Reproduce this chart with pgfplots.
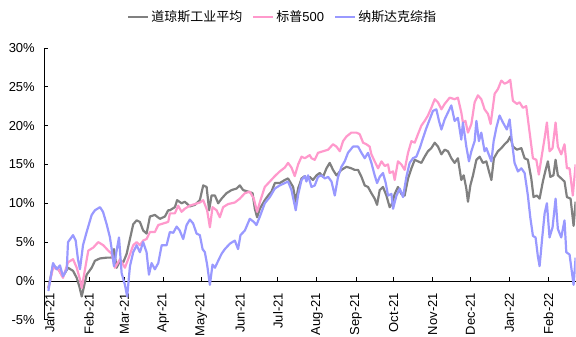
\documentclass[border=0pt]{standalone}
\usepackage{pgfplots}
\pgfplotsset{compat=1.18}
\usepackage{fontspec}
\setmainfont{Liberation Sans}
\newfontfamily\cjk{Noto Sans CJK SC}

\definecolor{dowgray}{HTML}{808080}
\definecolor{sppink}{HTML}{FF99CC}
\definecolor{nasblue}{HTML}{9999FF}

\begin{document}
\begin{tikzpicture}
\begin{axis}[
  name=ax,
  scale only axis, width=532pt, height=272pt,
  xmin=-4.8, xmax=417.5, ymin=-5, ymax=30,
  axis x line=middle, axis y line=left,
  axis line style={-, black, line width=0.8pt},
  tick align=inside, major tick length=4pt,
  tick style={black, line width=0.8pt},
  xtick={0,31,59,90,120,151,181,212,243,273,304,334,365,396},
  xticklabels={Jan-21,Feb-21,Mar-21,Apr-21,May-21,Jun-21,Jul-21,Aug-21,Sep-21,Oct-21,Nov-21,Dec-21,Jan-22,Feb-22},
  xticklabel style={font=\fontsize{13}{15}\selectfont, rotate=90, anchor=east, inner sep=0pt, xshift=-12pt},
  ytick={-5,0,5,10,15,20,25,30},
  yticklabels={-5\%,0\%,5\%,10\%,15\%,20\%,25\%,30\%},
  yticklabel style={font=\fontsize{13}{15}\selectfont, inner sep=0pt, xshift=-9pt},
  legend columns=3,
  legend style={at={(0.449,1.114)}, anchor=center, draw=none, fill=none,
    font=\fontsize{13}{15}\selectfont,
    /tikz/every even column/.append style={column sep=8pt}},
  legend image code/.code={\draw[#1] (0pt,0pt) -- (20pt,0pt);},
  every axis plot/.append style={line width=2.2pt, line join=round},
]
% Dow Jones Industrial Average, cumulative change (%)
\addplot[dowgray] coordinates {
(-1.3,-0.9) (2.4,2.0) (6.6,1.5) (10.3,0.6) (14.3,1.7) (18.3,1.3) (21.2,0.4) (23.3,-0.7) (25.2,-2.0) (27,-0.7)
(29.1,0.8) (33.1,1.7) (35.7,2.6) (39.7,2.9) (45,3.0) (49,3.0) (50.8,4.1) (52.9,1.7) (55.6,2.6) (58.2,2.4)
(60.9,3.5) (63.5,5.4) (66.1,7.3) (68.8,7.8) (71.4,7.6) (74,6.5) (76.7,6.1) (79.4,8.3) (83.3,8.5) (87.3,8.0)
(91.3,8.3) (93.9,9.1) (95.2,9.1) (99.2,9.5) (101,10.4) (104.5,10.0) (107.1,10.2) (111.1,9.6) (115.1,9.8) (119,10.4)
(121.7,12.3) (124.4,12.1) (126.4,9.1) (128.3,11.0) (131,11.0) (133.6,10.0) (136.3,10.6) (140.2,11.3) (144.2,11.7) (148.2,11.9)
(150.8,12.3) (153.4,11.7) (157.4,11.5) (160.9,11.3) (162.7,9.3) (164.5,8.2) (166.7,9.3) (170.6,10.4) (173.3,11.0) (175.9,11.5)
(178.6,12.6) (182.5,12.6) (186.5,13.0) (189.1,13.2) (193.1,12.1) (195.2,10.2) (197.1,11.9) (199.8,13.2) (202.4,13.5) (203.7,13.0)
(206.3,13.4) (208.9,13.0) (211.7,13.6) (214.3,13.9) (216.9,13.4) (219.6,14.5) (222.2,15.2) (224.8,14.3) (227.5,13.6) (231.5,14.3)
(235.5,14.7) (239.4,14.5) (242,14.3) (244.7,14.3) (247.4,13.4) (250,12.3) (252.6,12.1) (255.3,11.3) (257.9,10.6) (259.8,9.8)
(261.9,11.7) (264.5,12.1) (267.2,11.0) (269.8,9.5) (271.9,10.0) (273.8,11.2) (276.4,12.1) (279.1,11.2) (281.7,11.0) (284.4,13.2)
(287.1,14.5) (289.7,15.6) (292.3,15.4) (295,15.2) (297.6,16.0) (300.2,16.7) (302.9,17.1) (305.6,17.8) (308.2,17.3) (310.9,16.3)
(313.5,16.9) (316.1,16.7) (318.8,15.8) (321.4,15.2) (324,15.8) (326.7,13.0) (328.6,13.6) (330.7,11.9) (332,10.2) (333.9,12.3)
(336,13.6) (338.7,15.6) (341.3,16.0) (343.9,15.2) (346.6,15.4) (348.7,14.1) (350.6,13.0) (352.6,15.8) (355.8,16.7) (358.5,17.1)
(361.1,17.6) (363.7,18.0) (365.6,18.6) (367.7,17.3) (370.9,16.9) (374.4,17.1) (377,15.8) (379.6,15.6) (382.3,13.2) (384.1,10.8)
(386.7,11.0) (388.9,10.6) (391.5,12.8) (393.7,14.3) (395.5,15.4) (397.4,13.4) (399.9,13.6) (401.6,15.6) (403.4,13.6) (406.1,13.2)
(408.7,12.8) (410.6,10.8) (413.5,10.6) (415.9,7.1) (417.5,10.2)
};
\addlegendentry{\cjk 道琼斯工业平均}
% S&P 500
\addplot[sppink] coordinates {
(-1.3,-1.0) (2.4,1.7) (6.6,1.5) (10.3,0.4) (14.3,2.4) (18.3,2.8) (21.2,1.7) (23.8,0.2) (25.2,-0.9) (27.8,1.5)
(30.4,3.9) (34.4,4.3) (38.3,5.0) (42.3,4.6) (46.3,3.9) (49,3.5) (51.6,1.7) (55.6,2.8) (59.5,1.7) (62.1,2.8)
(66.1,4.6) (68.8,5.0) (71.4,4.6) (74,5.2) (76.7,5.4) (79.4,6.3) (83.3,6.3) (86,7.2) (89.9,7.4) (93.9,7.6)
(95.2,8.7) (99.2,8.7) (101.8,9.7) (104.5,8.9) (107.1,9.3) (111.1,9.7) (115.1,9.9) (119,10.1) (121.7,10.4) (124.8,9.1)
(127,6.9) (129.1,9.5) (132.3,9.1) (134.9,8.2) (137.5,9.5) (141.5,9.9) (146.8,10.1) (150.8,10.6) (154.8,11.3) (158.7,11.5)
(161.9,10.6) (164.5,8.9) (167.2,10.4) (170.6,12.1) (174.6,12.8) (178.6,13.5) (182.5,14.1) (186.5,14.6) (189.1,15.2) (191.8,14.6)
(194.4,13.5) (197.1,15.0) (199.8,16.0) (202.4,15.8) (206.3,16.2) (207.7,15.8) (210.3,15.6) (212.9,16.5) (216.9,16.7) (220.9,16.9)
(224.8,17.6) (227.5,17.3) (230.2,16.7) (232.8,18.0) (235.5,18.6) (239.4,19.1) (243.4,19.1) (246,18.9) (248.7,17.8) (251.3,17.6)
(253.9,17.3) (255.3,16.3) (257.9,15.4) (260.6,14.5) (263.3,15.4) (265.9,14.8) (268.5,15.0) (269.8,13.9) (272.5,14.1) (273.8,13.0)
(276.4,15.4) (279.1,15.0) (281.7,14.3) (284.4,16.5) (287.1,18.0) (289.7,17.8) (292.3,18.9) (295,20.0) (297.6,20.6) (300.2,21.3)
(302.9,22.3) (305.6,23.4) (308.2,23.0) (310.9,22.1) (313.5,22.8) (317.5,23.6) (321.4,23.4) (324,23.6) (326.7,21.7) (328,20.4)
(330,20.6) (332,19.1) (334.7,20.2) (337.3,23.0) (339.9,23.9) (342.6,23.4) (345.2,22.1) (347.9,21.5) (350,20.2) (353.2,24.1)
(355.8,24.7) (358.5,25.8) (361.1,25.4) (363.7,25.6) (365.6,25.9) (367.7,23.2) (370.9,22.8) (373,23.0) (375.6,22.3) (378.3,22.5)
(381,19.1) (383.6,15.8) (386.3,15.6) (388.3,13.7) (391,16.5) (392.9,18.4) (394.7,20.4) (396.8,16.7) (399.2,17.1) (401.6,20.4)
(403.4,17.3) (406.1,16.3) (408.7,17.6) (410.6,14.5) (412.7,14.5) (415.3,11.0) (417.5,15.0)
};
\addlegendentry{{\cjk 标普}500}
% Nasdaq Composite
\addplot[nasblue] coordinates {
(-1.3,-1.3) (2.4,2.3) (5.3,1.5) (7.9,2.0) (10.3,0.6) (13.3,1.5) (14.3,5.0) (18.3,5.9) (20.4,5.2) (22.2,2.8)
(23.8,1.5) (26.2,4.6) (29.1,6.3) (33.1,8.5) (35.7,9.1) (39.7,9.5) (42.1,8.9) (45,7.3) (47.6,5.6) (49,4.1)
(50.8,1.9) (52.9,3.9) (54.8,5.6) (56.9,1.0) (59.5,-0.5) (61.3,-2.0) (63.5,1.9) (66.1,3.7) (68.8,4.6) (71.4,3.7)
(74,5.0) (76.7,3.7) (78.6,0.8) (80.7,2.3) (83.3,1.5) (86,2.3) (88.7,4.6) (92.6,4.6) (95.2,6.3) (97.9,6.2)
(100.6,7.0) (103,6.5) (105.8,5.4) (108.5,7.2) (111.1,7.9) (113.7,7.4) (116.4,6.1) (119,5.9) (121.2,4.1) (123,3.7)
(124.8,2.1) (127,-0.5) (129.1,2.1) (131,1.7) (133.6,2.6) (136.3,3.5) (138.9,4.1) (142.9,4.8) (146.8,5.2) (149.4,4.1)
(151.3,5.9) (154.8,6.5) (158.7,8.0) (161.9,7.6) (164,7.2) (167.2,8.5) (170.6,10.0) (174.6,10.8) (178.6,11.9) (182.5,12.3)
(186.5,12.6) (189.1,12.8) (191.8,11.7) (195.2,9.1) (197.1,11.1) (199.8,13.0) (202.4,13.5) (203.7,12.8) (205,13.6) (207.7,12.1)
(210.3,12.3) (212.9,13.4) (215.6,13.6) (218.3,13.2) (220.9,13.4) (223.6,12.8) (226.2,11.0) (228.8,13.4) (231.5,14.7) (234.1,15.4)
(236.7,16.5) (240.7,17.3) (244.7,17.3) (247.4,16.5) (250,15.8) (252.6,16.5) (255.3,15.2) (257.9,13.6) (259.8,12.6) (261.9,13.4)
(264.5,13.9) (266.7,12.6) (268.5,11.0) (271.2,11.2) (272.5,9.3) (275.2,11.0) (277.8,11.9) (280.4,10.8) (283.1,13.4) (285.7,15.2)
(288.3,15.8) (291,16.0) (293.7,17.1) (296.3,18.4) (299,19.7) (301.6,20.8) (304.2,21.9) (306.9,22.1) (309,20.6) (310.9,19.5)
(313.5,20.8) (316.1,21.7) (318.8,22.6) (321.4,20.6) (324,21.0) (326.7,18.2) (328,20.4) (330.7,17.3) (332.8,15.4) (334.7,16.7)
(337.3,18.0) (338.7,20.6) (340.7,18.0) (342.6,19.1) (345.2,16.7) (346.6,17.1) (350.6,15.4) (352.4,18.0) (354.5,19.7) (357.1,21.3)
(359.8,20.4) (362.9,19.5) (365.1,20.8) (366.9,18.0) (369,15.2) (371.7,14.1) (374.4,14.5) (377,13.9) (379.6,11.0) (381.5,8.2)
(383.6,5.8) (385.7,5.6) (387.5,3.2) (388.9,1.9) (391,5.6) (392.9,8.7) (394.7,10.0) (396.8,5.6) (399.2,6.9) (401.6,10.6)
(403.4,6.7) (406.1,5.6) (408.7,7.8) (410.1,3.7) (412.7,3.4) (415.9,-0.5) (417.5,3.0)
};
\addlegendentry{\cjk 纳斯达克综指}
\end{axis}
\path ([xshift=-44pt,yshift=-14pt]ax.south west) rectangle ([yshift=48pt]ax.north east);
\end{tikzpicture}
\end{document}
